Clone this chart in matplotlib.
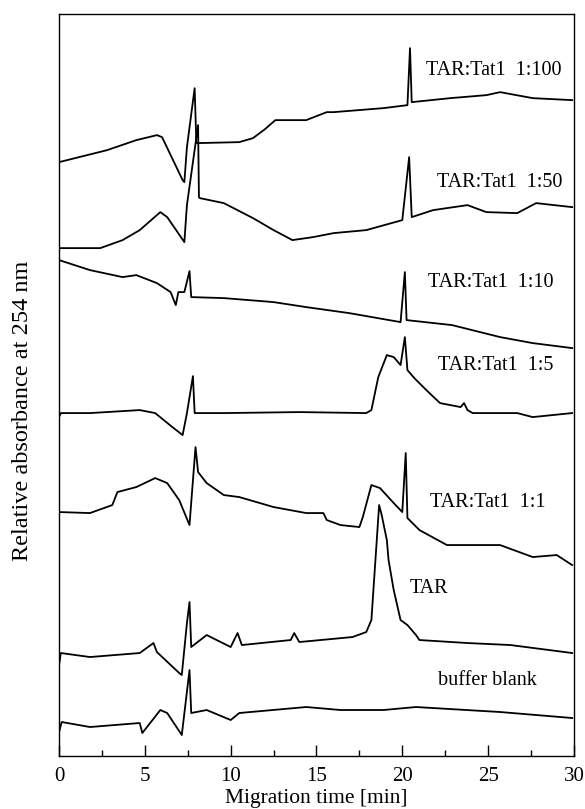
import matplotlib
matplotlib.use("Agg")
import matplotlib.pyplot as plt
from matplotlib.ticker import MultipleLocator

plt.rcParams["font.family"] = ["Liberation Serif", "DejaVu Serif"]

# migration time [min] and relative absorbance (arbitrary units, already stacked)
t_100 = [0, 2.8, 4.5, 5.7, 6.0, 7.2, 7.3, 7.45, 7.9, 8.0, 10.5, 11.3, 12.0, 12.6,
         14.4, 15.6, 16.0, 18.9, 20.3, 20.45, 20.55, 22.8, 24.9, 25.7, 27.6, 29.9]
a_100 = [5.94, 6.06, 6.16, 6.21, 6.19, 5.76, 5.74, 6.09, 6.68, 6.13, 6.14, 6.18, 6.27, 6.36,
         6.36, 6.44, 6.44, 6.48, 6.51, 7.08, 6.54, 6.58, 6.61, 6.64, 6.58, 6.56]

t_50 = [0, 2.4, 3.7, 4.7, 5.9, 6.3, 7.3, 7.45, 8.1, 8.15, 8.2, 9.6, 11.3, 12.5, 13.6,
        14.8, 16.0, 17.9, 20.0, 20.4, 20.55, 21.8, 23.8, 24.9, 26.7, 27.8, 29.9]
a_50 = [5.08, 5.08, 5.16, 5.26, 5.44, 5.39, 5.14, 5.51, 6.31, 5.59, 5.58, 5.53, 5.38, 5.26, 5.16,
        5.19, 5.23, 5.26, 5.36, 5.99, 5.39, 5.46, 5.51, 5.44, 5.43, 5.53, 5.49]

t_10 = [0, 1.8, 3.7, 4.5, 5.7, 6.5, 6.8, 6.95, 7.3, 7.6, 7.7, 9.6, 12.5, 14.4, 16.9,
        19.9, 20.15, 20.25, 22.9, 25.7, 27.6, 29.9]
a_10 = [4.96, 4.86, 4.79, 4.81, 4.73, 4.64, 4.51, 4.64, 4.64, 4.85, 4.59, 4.58, 4.54, 4.49, 4.43,
        4.34, 4.84, 4.36, 4.31, 4.19, 4.13, 4.08]

t_5 = [0, 0.1, 1.8, 4.7, 5.6, 6.6, 7.2, 7.45, 7.8, 7.9, 9.6, 14.0, 17.9, 18.2, 18.6, 19.1,
       19.5, 19.9, 20.15, 20.3, 20.7, 21.4, 22.2, 23.4, 23.6, 23.8, 24.1, 26.7, 27.6, 29.9]
a_5 = [3.39, 3.43, 3.43, 3.46, 3.43, 3.29, 3.21, 3.43, 3.80, 3.43, 3.43, 3.44, 3.43, 3.46, 3.79, 4.01,
       3.99, 3.91, 4.19, 3.86, 3.78, 3.66, 3.53, 3.49, 3.53, 3.46, 3.43, 3.43, 3.39, 3.43]

t_1 = [0, 1.8, 3.1, 3.4, 4.5, 5.6, 6.3, 7.0, 7.6, 7.95, 8.1, 8.6, 9.6, 10.5, 12.5, 14.4,
       15.4, 15.6, 16.4, 17.5, 17.7, 18.2, 18.7, 19.5, 20.0, 20.2, 20.3, 21.0, 22.6, 25.7,
       27.6, 29.0, 29.9]
a_1 = [2.44, 2.43, 2.51, 2.64, 2.69, 2.78, 2.73, 2.56, 2.31, 3.09, 2.84, 2.73, 2.61, 2.59, 2.49, 2.43,
       2.43, 2.36, 2.31, 2.29, 2.39, 2.71, 2.68, 2.53, 2.44, 3.03, 2.38, 2.26, 2.11, 2.11,
       1.99, 2.01, 1.91]

t_tar = [0, 0.1, 1.8, 4.7, 5.5, 5.7, 7.0, 7.15, 7.45, 7.6, 7.7, 8.6, 10.0, 10.4, 10.65,
         13.5, 13.7, 14.0, 17.1, 17.9, 18.2, 18.65, 18.8, 19.1, 19.2, 19.5, 19.7, 19.9, 20.3,
         20.8, 21.0, 23.8, 26.3, 29.9]
a_tar = [0.91, 1.03, 0.99, 1.03, 1.13, 1.04, 0.83, 0.81, 1.33, 1.54, 1.09, 1.21, 1.09, 1.23, 1.11,
         1.16, 1.23, 1.14, 1.19, 1.24, 1.36, 2.51, 2.41, 2.16, 1.96, 1.66, 1.51, 1.36, 1.31,
         1.21, 1.16, 1.13, 1.11, 1.03]

t_blank = [0, 0.15, 1.8, 4.7, 4.85, 5.9, 6.3, 7.15, 7.6, 7.7, 8.6, 10.0, 10.5, 14.4, 16.4,
           18.9, 20.8, 25.7, 29.9]
a_blank = [0.24, 0.34, 0.29, 0.33, 0.23, 0.46, 0.43, 0.21, 0.86, 0.43, 0.46, 0.36, 0.43, 0.49, 0.46,
           0.46, 0.49, 0.44, 0.38]

traces = [(t_100, a_100), (t_50, a_50), (t_10, a_10), (t_5, a_5),
          (t_1, a_1), (t_tar, a_tar), (t_blank, a_blank)]
names = ["TAR:Tat1  1:100", "TAR:Tat1  1:50", "TAR:Tat1  1:10", "TAR:Tat1  1:5",
         "TAR:Tat1  1:1", "TAR", "buffer blank"]
name_x = [21.4, 22.0, 21.5, 22.1, 21.6, 20.45, 22.07]
name_y = [6.86, 5.74, 4.74, 3.91, 2.54, 1.68, 0.76]

fig = plt.figure(figsize=(5.85, 8.09), dpi=100)
ax = fig.add_axes([0.101, 0.0655, 0.880, 0.917])

for t, a in traces:
    ax.plot(t, a, color="black", linewidth=1.3)
for name, x, y in zip(names, name_x, name_y):
    ax.text(x, y, name, ha="left", va="center", fontsize=14.5)

ax.set_xlim(0, 30)
ax.set_ylim(0, 7.42)
ax.xaxis.set_major_locator(MultipleLocator(5))
ax.xaxis.set_minor_locator(MultipleLocator(2.5))
ax.tick_params(axis="x", which="major", direction="in", length=8, width=1, labelsize=15, pad=8)
ax.tick_params(axis="x", which="minor", direction="in", length=4, width=1)
ax.set_yticks([])
for s in ax.spines.values():
    s.set_linewidth(1)
ax.set_xlabel("Migration time [min]", fontsize=15.5, labelpad=2)
ax.set_ylabel("Relative absorbance at 254 nm", fontsize=17.5)
ax.yaxis.set_label_coords(-0.05, 0.465)

fig.savefig("out.png", dpi=100)
plt.close(fig)
